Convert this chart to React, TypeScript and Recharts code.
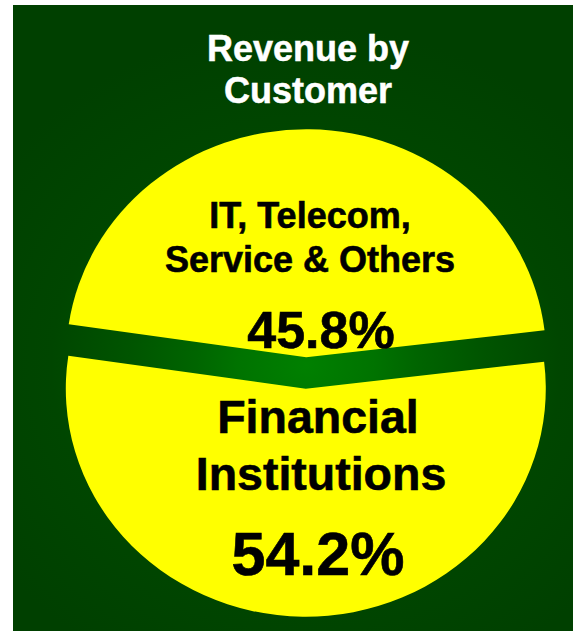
import { Pie, PieChart, Sector } from "recharts";

const segments = ["IT, Telecom, Service & Others", "Financial Institutions"];
const shares = [45.8, 54.2];
const labelLines = [
  ["IT, Telecom,", "Service & Others"],
  ["Financial", "Institutions"],
];
const titleLines = ["Revenue by", "Customer"];

const data = segments.map((name, i) => ({ name, value: shares[i] }));

const RAD = Math.PI / 180;
const SQUASH = 0.95; // the pie is drawn slightly flattened
const EXPLODE = 15.7;
const FONT = "'Liberation Sans', Arial, sans-serif";

/** Exploded, flattened sector: pushes each slice out along its mid angle. */
function TiltedSector(props: any) {
  const { cy, midAngle } = props;
  const dx = EXPLODE * Math.cos(-midAngle * RAD);
  const dy = EXPLODE * Math.sin(-midAngle * RAD);
  return (
    <g transform={`translate(${dx} ${dy + cy}) scale(1 ${SQUASH}) translate(0 ${-cy})`}>
      <Sector {...props} />
    </g>
  );
}

function SliceLabel(props: any) {
  const { cx, cy, midAngle, value, index } = props;
  const [a, b] = labelLines[index];
  const pct = `${Number(value).toFixed(1)}%`;
  const common = {
    textAnchor: "middle" as const,
    fontFamily: FONT,
    fontWeight: 700,
    fill: "#000",
    stroke: "#000",
    strokeWidth: 0.6,
  };
  if (Math.sin(midAngle * RAD) > 0) {
    return (
      <g>
        <text {...common} x={cx + 4} y={cy - 145} fontSize={36}>{a}</text>
        <text {...common} x={cx + 4} y={cy - 101.5} fontSize={36}>{b}</text>
        <text {...common} x={cx + 15} y={cy - 25.5} fontSize={52}>{pct}</text>
      </g>
    );
  }
  return (
    <g>
      <text {...common} x={cx + 12} y={cy + 59.7} fontSize={46.5}>{a}</text>
      <text {...common} x={cx + 15} y={cy + 117} fontSize={46.5}>{b}</text>
      <text {...common} x={cx + 12} y={cy + 202} fontSize={61}>{pct}</text>
    </g>
  );
}

export default function App() {
  return (
    <div style={{ position: "absolute", left: 0, top: 0, width: 573, height: 631, background: "#fff" }}>
      <div
        style={{
          position: "absolute",
          left: 13,
          top: 5,
          width: 560,
          height: 626,
          background:
            "radial-gradient(ellipse 380px 340px at 293px 360px, #008000 0%, #007300 18%, #006500 29%, #005500 46%, #004600 67%, #004000 100%)",
        }}
      />
      <div style={{ position: "absolute", left: 0, top: 0 }}>
        <PieChart width={573} height={631} margin={{ top: 0, right: 0, bottom: 0, left: 0 }}>
          <Pie
            data={data}
            dataKey="value"
            nameKey="name"
            cx={306}
            cy={373}
            outerRadius={240}
            startAngle={6.8}
            endAngle={366.8}
            fill="#ffff00"
            stroke="none"
            shape={TiltedSector}
            label={SliceLabel}
            labelLine={false}
            isAnimationActive={false}
          />
        </PieChart>
      </div>
      <svg width={573} height={120} style={{ position: "absolute", left: 0, top: 0 }}>
        {titleLines.map((t, i) => (
          <text
            key={t}
            x={308}
            y={60.5 + i * 42.5}
            textAnchor="middle"
            fontFamily={FONT}
            fontWeight={700}
            fontSize={36}
            fill="#fff"
            stroke="#fff"
            strokeWidth={0.5}
          >
            {t}
          </text>
        ))}
      </svg>
    </div>
  );
}
